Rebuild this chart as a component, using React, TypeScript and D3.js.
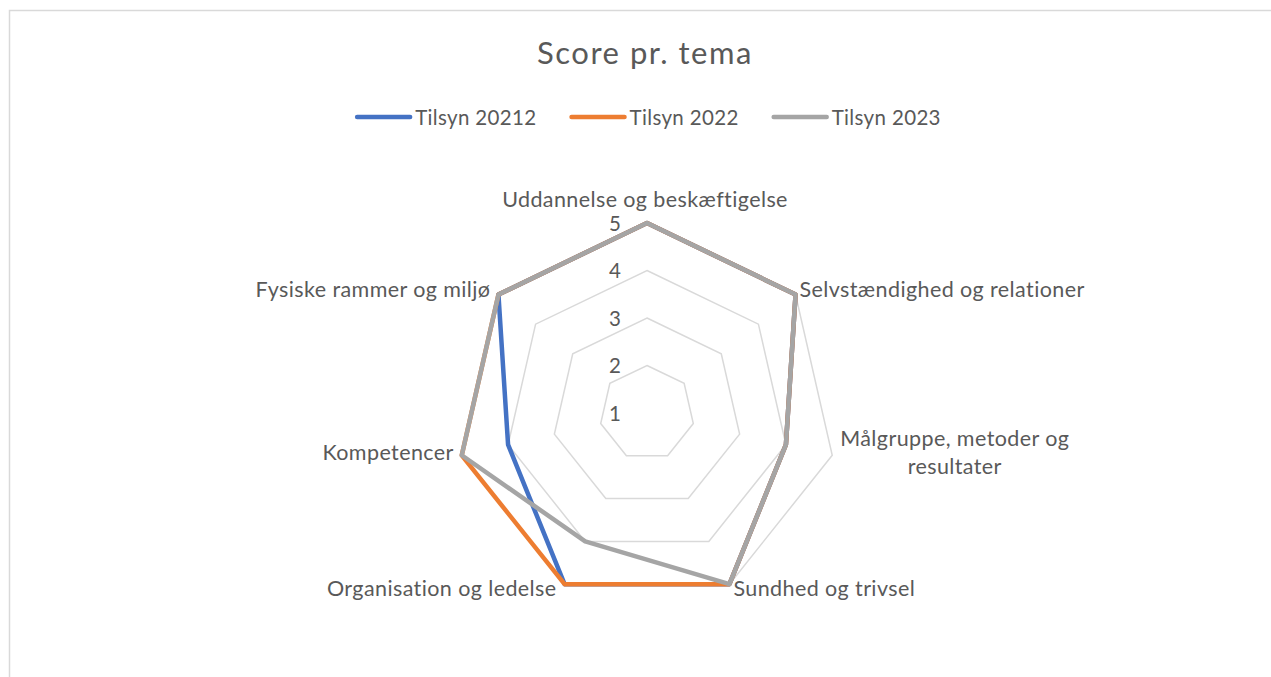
import React, { useEffect, useRef } from "react";
import * as d3 from "d3";

const categories: string[][] = [
  ["Uddannelse og beskæftigelse"],
  ["Selvstændighed og relationer"],
  ["Målgruppe, metoder og", "resultater"],
  ["Sundhed og trivsel"],
  ["Organisation og ledelse"],
  ["Kompetencer"],
  ["Fysiske rammer og miljø"],
];
const seriesNames = ["Tilsyn 20212", "Tilsyn 2022", "Tilsyn 2023"];
const tilsyn20212 = [5, 5, 4, 5, 5, 4, 5];
const tilsyn2022 = [5, 5, 4, 5, 5, 5, 5];
const tilsyn2023 = [5, 5, 4, 5, 4, 5, 5];
const seriesColors = ["#4472C4", "#ED7D31", "#A5A5A5"];
const tickValues = [1, 2, 3, 4, 5];
const title = "Score pr. tema";

const W = 1271;
const H = 677;
const FONT = "Lato, 'Open Sans', sans-serif";
const TEXT = "#595959";

export default function App() {
  const ref = useRef<SVGSVGElement>(null);
  useEffect(() => {
    const svg = d3.select(ref.current!);
    svg.selectAll("*").remove();
    const cx = 647;
    const cy = 413;
    const r = d3.scaleLinear().domain([1, 5]).range([0, 190]);
    const n = categories.length;
    const angle = (i: number) => -Math.PI / 2 + (i * 2 * Math.PI) / n;
    const pt = (i: number, v: number): [number, number] => [
      cx + r(v) * Math.cos(angle(i)),
      cy + r(v) * Math.sin(angle(i)),
    ];

    // border
    svg
      .append("path")
      .attr("d", `M9.5,${H} L9.5,10.5 L${W},10.5`)
      .attr("fill", "none")
      .attr("stroke", "#D9D9D9")
      .attr("stroke-width", 1.5);

    // title
    svg
      .append("text")
      .attr("x", 645)
      .attr("y", 64)
      .attr("text-anchor", "middle")
      .attr("font-family", FONT)
      .attr("font-size", 31)
      .attr("letter-spacing", 1.5)
      .attr("fill", TEXT)
      .text(title);

    // legend
    const lg = svg.append("g");
    let lx = 0;
    seriesNames.forEach((name, k) => {
      const g = lg.append("g").attr("transform", `translate(${lx},0)`);
      g.append("line")
        .attr("x1", 2)
        .attr("x2", 55)
        .attr("y1", 0)
        .attr("y2", 0)
        .attr("stroke", seriesColors[k])
        .attr("stroke-width", 4.5)
        .attr("stroke-linecap", "round");
      const t = g
        .append("text")
        .attr("x", 60)
        .attr("y", 7.5)
        .attr("font-family", FONT)
        .attr("font-size", 20.5)
        .attr("letter-spacing", 0.35)
        .attr("fill", TEXT)
        .text(name);
      const tw = (t.node() as SVGTextElement).getComputedTextLength();
      const w = 60 + tw;
      lx += w + 33;
    });
    const total = lx - 33;
    lg.attr("transform", `translate(${648 - total / 2},117)`);

    // grid
    const lineGen = d3
      .line<[number, number]>()
      .x((d) => d[0])
      .y((d) => d[1])
      .curve(d3.curveLinearClosed);
    tickValues.slice(1).forEach((v) => {
      svg
        .append("path")
        .attr("d", lineGen(d3.range(n).map((i) => pt(i, v)))!)
        .attr("fill", "none")
        .attr("stroke", "#D9D9D9")
        .attr("stroke-width", 1.5);
    });

    // ticks
    tickValues.forEach((v) => {
      svg
        .append("text")
        .attr("x", cx - 26)
        .attr("y", cy - r(v) + 7.5)
        .attr("text-anchor", "end")
        .attr("font-family", FONT)
        .attr("font-size", 20.5)
        .attr("fill", TEXT)
        .text(String(v));
    });

    // series
    [tilsyn20212, tilsyn2022, tilsyn2023].forEach((vals, k) => {
      svg
        .append("path")
        .attr("d", lineGen(vals.map((v, i) => pt(i, v)))!)
        .attr("fill", "none")
        .attr("stroke", seriesColors[k])
        .attr("stroke-width", 4.5)
        .attr("stroke-linejoin", "round");
    });

    // category labels
    categories.forEach((lines, i) => {
      const [vx, vy] = pt(i, 5);
      const c = Math.cos(angle(i));
      const s = Math.sin(angle(i));
      const lh = 28;
      const g = svg.append("g");
      const t = g
        .append("text")
        .attr("font-family", FONT)
        .attr("font-size", 21.5)
        .attr("letter-spacing", 0.4)
        .attr("fill", TEXT);
      const tspans = lines.map((l) => t.append("tspan").text(l));
      if (Math.abs(c) < 0.1) {
        t.attr("text-anchor", "middle");
        tspans.forEach((ts, j) =>
          ts.attr("x", vx - 2).attr("y", vy - 16 + j * lh)
        );
        return;
      }
      const base = vy + 2 + Math.max(0, s) * 11 - ((lines.length - 1) * lh) / 2;
      if (lines.length > 1) {
        const widths = tspans.map((ts) =>
          (ts.node() as SVGTSpanElement).getComputedTextLength()
        );
        const bw = Math.max(...widths);
        const mid = c > 0 ? vx + 8 + bw / 2 : vx - 8 - bw / 2;
        t.attr("text-anchor", "middle");
        tspans.forEach((ts, j) => ts.attr("x", mid).attr("y", base + j * lh));
      } else {
        t.attr("text-anchor", c > 0 ? "start" : "end");
        tspans.forEach((ts, j) =>
          ts.attr("x", c > 0 ? vx + 4 : vx - 8).attr("y", base + j * lh)
        );
      }
    });
  }, []);
  return (
    <svg
      ref={ref}
      width={W}
      height={H}
      style={{ position: "absolute", left: 0, top: 0, background: "#fff" }}
    />
  );
}
